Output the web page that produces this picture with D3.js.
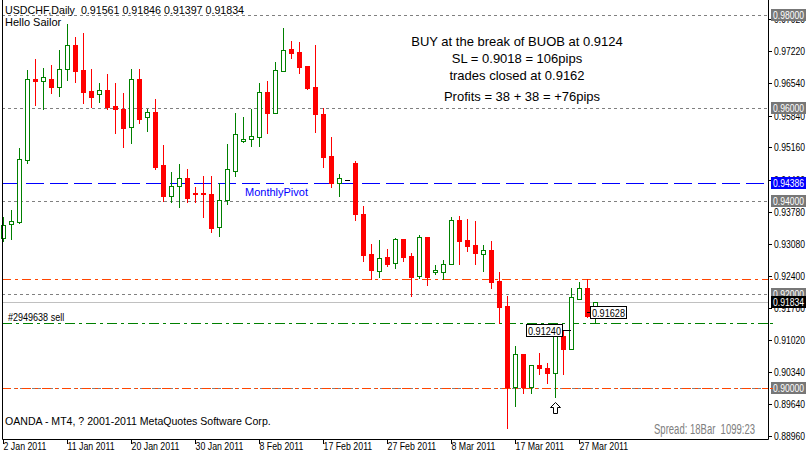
<!DOCTYPE html>
<html>
<head>
<meta charset="utf-8">
<script src="https://cdn.jsdelivr.net/npm/d3@7/dist/d3.min.js"></script>
<style>
body { margin: 0; background: #fff; }
svg { display: block; }
line, rect { shape-rendering: crispEdges; }
.mt { font-family: "Liberation Sans", Arial, sans-serif; font-size: 11px; white-space: pre; }
.big { font-family: "Liberation Sans", Arial, sans-serif; font-size: 13px; white-space: pre; }
</style>
</head>
<body>
<svg id="chart" width="806" height="455"></svg>
<script>
// USDCHF daily, 2 Jan 2011 .. 29 Mar 2011 (OANDA, Sunday bars included)
const opens = [0.93211,0.93510,0.93555,0.94886,0.96626,0.96583,0.96626,0.96454,0.96840,0.97356,
  0.96819,0.96366,0.96302,0.96389,0.96044,0.95981,0.95595,0.96626,0.95810,0.95917,
  0.94777,0.94113,0.94326,0.94498,0.94178,0.94178,0.94156,0.93448,0.94027,0.94648,
  0.95294,0.95337,0.95380,0.96345,0.95896,0.96797,0.97270,0.97205,0.96905,0.96454,
  0.95874,0.94972,0.94390,0.94455,0.94822,0.93727,0.92866,0.92501,0.92801,0.92675,
  0.93190,0.92823,0.92394,0.93233,0.92479,0.92479,0.92651,0.93598,0.93167,0.93059,
  0.92866,0.92952,0.92288,0.91751,0.90012,0.90721,0.90012,0.90484,0.90420,0.90313,
  0.91107,0.90828,0.91902,0.92136,0.91561];
const highs = [0.93662,0.93813,0.95144,0.96819,0.97055,0.96862,0.96926,0.97248,0.97807,0.97527,
  0.97613,0.96840,0.96540,0.96733,0.96540,0.96323,0.96840,0.96840,0.95981,0.96194,
  0.95208,0.94627,0.94800,0.94691,0.94305,0.94541,0.94541,0.94390,0.95230,0.95896,
  0.95810,0.95981,0.96540,0.96583,0.96991,0.97721,0.97442,0.97420,0.96905,0.97356,
  0.96003,0.95380,0.94584,0.94455,0.94865,0.93899,0.93081,0.93167,0.92973,0.93211,
  0.93190,0.92887,0.93276,0.93233,0.92630,0.92737,0.93662,0.93684,0.93619,0.93576,
  0.93059,0.93145,0.92479,0.91966,0.90892,0.90721,0.90484,0.90742,0.90527,0.91107,
  0.91214,0.92136,0.92267,0.92329,0.91846];
const lows = [0.93145,0.93190,0.93532,0.94822,0.96065,0.95981,0.96323,0.96259,0.96604,0.96561,
  0.96108,0.96024,0.96130,0.95981,0.95466,0.95166,0.95251,0.95681,0.95509,0.94691,
  0.94006,0.93985,0.93877,0.93985,0.93985,0.93662,0.93340,0.93254,0.93942,0.94541,
  0.95273,0.95187,0.95187,0.95466,0.95896,0.96797,0.97077,0.96754,0.96411,0.95488,
  0.94734,0.94305,0.94113,0.94455,0.93598,0.92716,0.92329,0.92372,0.92608,0.92565,
  0.92716,0.91966,0.92351,0.92202,0.92436,0.92329,0.92651,0.92651,0.92930,0.92651,
  0.92501,0.92136,0.91386,0.89132,0.89604,0.89883,0.89883,0.90291,0.90098,0.89797,
  0.90291,0.90828,0.91902,0.91515,0.91397];
const closes = [0.93489,0.93576,0.94908,0.96626,0.96583,0.96667,0.96454,0.96840,0.97356,0.96797,
  0.96345,0.96237,0.96389,0.96024,0.95981,0.95573,0.96626,0.95767,0.95917,0.94734,
  0.94113,0.94326,0.94498,0.94070,0.94156,0.94156,0.93426,0.94027,0.94691,0.95445,
  0.95337,0.95402,0.96345,0.95896,0.96819,0.97248,0.97184,0.96883,0.96432,0.95874,
  0.94951,0.94390,0.94498,0.94455,0.93727,0.92844,0.92522,0.92780,0.92651,0.93190,
  0.92801,0.92372,0.93233,0.92372,0.92522,0.92651,0.93598,0.93145,0.93038,0.92887,
  0.92952,0.92267,0.91730,0.90012,0.90721,0.90012,0.90484,0.90420,0.90313,0.91107,
  0.90828,0.91945,0.92136,0.91537,0.91834];

const dateTickBars = [0, 8, 16, 24, 32, 40, 48, 56, 64, 72];
const dateLabels = ["2 Jan 2011", "11 Jan 2011", "20 Jan 2011", "30 Jan 2011", "8 Feb 2011",
  "17 Feb 2011", "27 Feb 2011", "8 Mar 2011", "17 Mar 2011", "27 Mar 2011"];
const priceTicks = [0.9792, 0.9722, 0.9654, 0.9584, 0.9516, 0.9446, 0.9378, 0.9308,
  0.9240, 0.9170, 0.9102, 0.9034, 0.8964, 0.8896];

const roundLevels = [0.98, 0.96, 0.94, 0.92, 0.90];
const pivotLevel = 0.94386;
const bidLevel = 0.91834;
const orderLevel = 0.91393;
const stopLevels = [0.92330, 0.90000];
const entryPrice = 0.91240, entryBar = 71;
const exitPrice = 0.91628, exitBar = 73;
const arrowBar = 69, arrowPrice = 0.89700;

const notes = ["BUY at the break of BUOB at 0.9124", "SL = 0.9018 = 106pips", "trades closed at 0.9162"];
const profitNote = "Profits = 38 + 38 = +76pips";

const svg = d3.select("#chart");
const x = d3.scaleLinear().domain([0, 74]).range([3, 595]);
const y = d3.scaleLinear().domain([0.98, 0.8896]).range([15, 436]);
const L = 2, R = 768, B = 439;
const py = v => Math.round(y(v)) + 0.5;
const fmt = d3.format(".5f");

// the MT4 bitmap font is narrow, squeeze the text to its width
function squeeze(sel, k) {
  sel.each(function () {
    const w = this.getComputedTextLength();
    d3.select(this).attr("textLength", w * k).attr("lengthAdjust", "spacingAndGlyphs");
  });
  return sel;
}

function hline(level, color, dash) {
  svg.append("line")
    .attr("x1", L).attr("x2", R)
    .attr("y1", py(level)).attr("y2", py(level))
    .attr("stroke", color).attr("stroke-width", 1).attr("stroke-dasharray", dash);
}

// grid / level lines
roundLevels.forEach(v => hline(v, "#808080", "3,3"));
hline(pivotLevel, "#0000ff", "18,6");
hline(bidLevel, "#c0c0c0", null);
hline(orderLevel, "#008000", "10,4,3,4");
stopLevels.forEach(v => hline(v, "#ff4500", "9,4,3,4"));

// candles
const bars = d3.range(opens.length).map(i => ({i, o: opens[i], h: highs[i], l: lows[i], c: closes[i]}));
const g = svg.append("g");
bars.forEach(d => {
  const cx = x(d.i);
  const up = d.c > d.o, flat = d.c === d.o;
  const col = flat ? "#000" : (up ? "#008000" : "#ff0000");
  g.append("line")
    .attr("x1", cx + 0.5).attr("x2", cx + 0.5)
    .attr("y1", Math.round(y(d.h))).attr("y2", Math.round(y(d.l)) + 1)
    .attr("stroke", col);
  const top = Math.round(y(Math.max(d.o, d.c)));
  const bot = Math.round(y(Math.min(d.o, d.c)));
  if (flat) {
    g.append("line").attr("x1", cx - 2).attr("x2", cx + 3)
      .attr("y1", top + 0.5).attr("y2", top + 0.5).attr("stroke", col);
  } else if (up) {
    g.append("rect")
      .attr("x", cx - 1.5).attr("y", top + 0.5)
      .attr("width", 4).attr("height", Math.max(bot - top, 1))
      .attr("fill", "#fff").attr("stroke", col);
  } else {
    g.append("rect")
      .attr("x", cx - 2).attr("y", top)
      .attr("width", 5).attr("height", Math.max(bot - top, 1) + 1)
      .attr("fill", col);
  }
});

// trade price labels
function priceTag(bar, price, side) {
  const yy = py(price);
  const w = 36, h = 12;
  const bx = side === "left" ? x(bar) - 9 - w : x(bar) + 3;
  svg.append("line").attr("x1", side === "left" ? bx + w : x(bar)).attr("x2", side === "left" ? x(bar) : bx)
    .attr("y1", yy).attr("y2", yy).attr("stroke", "#000");
  svg.append("rect").attr("x", bx + 0.5).attr("y", yy - 6).attr("width", w).attr("height", h)
    .attr("fill", "#fff").attr("stroke", "#000");
  svg.append("text").attr("class", "mt").attr("x", bx + 2).attr("y", yy + 4)
    .attr("textLength", 33).attr("lengthAdjust", "spacingAndGlyphs").text(fmt(price));
}
priceTag(entryBar, entryPrice, "left");
priceTag(exitBar, exitPrice, "right");

// up arrow under the breakout bar
const ax = x(arrowBar) + 0.5, ay = Math.round(y(arrowPrice)) + 0.5;
svg.append("path")
  .attr("d", `M${ax},${ay} L${ax + 5},${ay + 5} L${ax + 2},${ay + 5} L${ax + 2},${ay + 11} L${ax - 2},${ay + 11} L${ax - 2},${ay + 5} L${ax - 5},${ay + 5} Z`)
  .attr("fill", "#fff").attr("stroke", "#000");

// frame
svg.append("path").attr("d", `M${L + 0.5},0 V${B + 0.5} H${R + 0.5} V0`).attr("fill", "none").attr("stroke", "#000");

// price axis
const yAxis = svg.append("g").attr("transform", `translate(${R},0)`)
  .call(d3.axisRight(y).tickValues(priceTicks).tickSize(4).tickPadding(2).tickFormat(fmt));
yAxis.select(".domain").remove();
yAxis.selectAll("text").attr("class", "mt").attr("font-family", null).attr("font-size", null)
  .attr("fill", "#000").attr("textLength", 31).attr("lengthAdjust", "spacingAndGlyphs");

function axisTag(level, fill) {
  const yy = Math.round(y(level));
  svg.append("rect").attr("x", 771).attr("y", yy - 6).attr("width", 35).attr("height", 12).attr("fill", fill);
  svg.append("text").attr("class", "mt").attr("x", 773).attr("y", yy + 4).attr("fill", "#fff")
    .attr("textLength", 31).attr("lengthAdjust", "spacingAndGlyphs").text(fmt(level));
}
roundLevels.forEach(v => axisTag(v, "#777777"));
axisTag(pivotLevel, "#0000ff");
axisTag(bidLevel, "#000000");
[[stopLevels[0], "#ff4500"], [stopLevels[1], "#ff4500"], [orderLevel, "#008000"]].forEach(([v, c]) => {
  svg.append("line").attr("x1", 770).attr("x2", 773).attr("y1", py(v)).attr("y2", py(v)).attr("stroke", c);
});

// time axis
const xAxis = svg.append("g").attr("transform", `translate(0,${B})`)
  .call(d3.axisBottom(x).tickValues(dateTickBars).tickSize(5).tickFormat((d, i) => dateLabels[i]));
xAxis.select(".domain").remove();
xAxis.selectAll("text").attr("class", "mt").attr("font-family", null).attr("font-size", null)
  .attr("fill", "#000").attr("text-anchor", "start").attr("dx", 0).attr("dy", 0).attr("y", 11).attr("x", 0);
squeeze(xAxis.selectAll("text"), 0.8);

// texts
squeeze(svg.append("text").attr("class", "mt").attr("x", 5).attr("y", 14)
  .text("USDCHF,Daily  " + [opens[74], highs[74], lows[74], closes[74]].map(fmt).join(" ")), 0.97);
svg.append("text").attr("class", "mt").attr("x", 5).attr("y", 26).text("Hello Sailor");
svg.append("text").attr("class", "mt").attr("x", 245).attr("y", py(pivotLevel) + 12).attr("fill", "#0000ff").text("MonthlyPivot");
squeeze(svg.append("text").attr("class", "mt").attr("x", 8).attr("y", py(orderLevel) - 3).text("#2949638 sell"), 0.82);
squeeze(svg.append("text").attr("class", "mt").attr("x", 5).attr("y", 425).text("OANDA - MT4, ? 2001-2011 MetaQuotes Software Corp."), 0.96);
svg.append("text").attr("class", "big").attr("x", 755).attr("y", 434).attr("text-anchor", "end")
  .attr("fill", "#808080").style("font-size", "14px")
  .attr("textLength", 101).attr("lengthAdjust", "spacingAndGlyphs").text("Spread: 18Bar  1099:23");

svg.selectAll(".note").data(notes).join("text").attr("class", "big")
  .attr("x", 517).attr("y", (d, i) => 46 + i * 17).attr("text-anchor", "middle").text(d => d);
svg.append("text").attr("class", "big").attr("x", 522).attr("y", 101).attr("text-anchor", "middle").text(profitNote);
</script>
</body>
</html>
